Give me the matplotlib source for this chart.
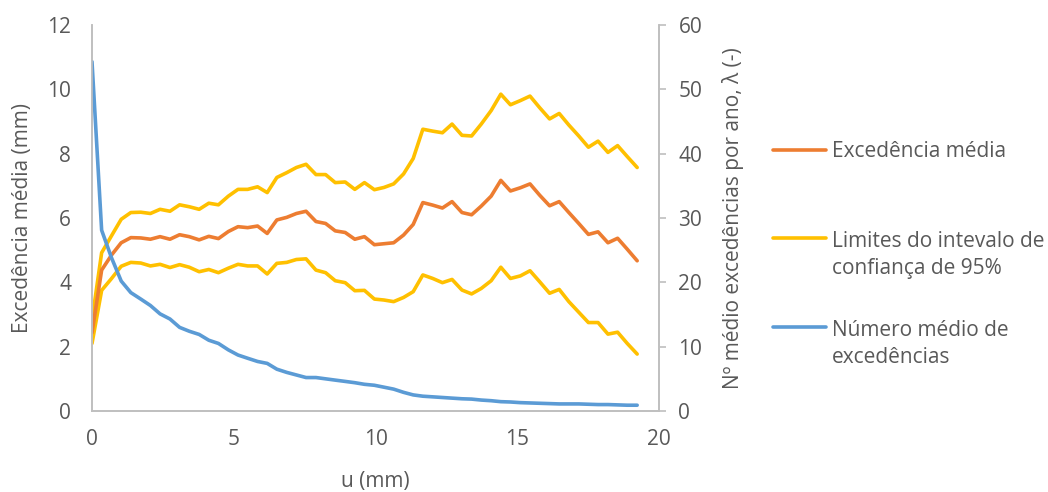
import matplotlib
matplotlib.use("Agg")
import matplotlib.pyplot as plt
from matplotlib.lines import Line2D

# ---------------- data ----------------
u_mm = [0.00, 0.34, 0.69, 1.03, 1.37, 1.72, 2.06, 2.40, 2.75, 3.09,
        3.43, 3.78, 4.12, 4.46, 4.81, 5.15, 5.49, 5.84, 6.18, 6.52,
        6.87, 7.21, 7.55, 7.90, 8.24, 8.58, 8.93, 9.27, 9.61, 9.96,
        10.30, 10.64, 10.99, 11.33, 11.67, 12.02, 12.36, 12.70, 13.05, 13.39,
        13.73, 14.08, 14.42, 14.76, 15.11, 15.45, 15.79, 16.14, 16.48, 16.82,
        17.17, 17.51, 17.85, 18.20, 18.54, 18.88, 19.23]

excedencia_media = [2.43, 4.38, 4.85, 5.23, 5.39, 5.38, 5.34, 5.42, 5.34, 5.48,
                    5.42, 5.32, 5.43, 5.36, 5.58, 5.73, 5.70, 5.75, 5.52, 5.94,
                    6.02, 6.14, 6.21, 5.89, 5.83, 5.60, 5.55, 5.34, 5.42, 5.17,
                    5.20, 5.23, 5.47, 5.80, 6.48, 6.40, 6.31, 6.51, 6.17, 6.10,
                    6.37, 6.68, 7.17, 6.84, 6.94, 7.06, 6.71, 6.38, 6.51, 6.17,
                    5.83, 5.49, 5.57, 5.23, 5.37, 5.03, 4.67]

limite_superior = [2.82, 4.92, 5.45, 5.96, 6.17, 6.18, 6.14, 6.27, 6.21, 6.41,
                   6.35, 6.27, 6.46, 6.41, 6.68, 6.89, 6.89, 6.97, 6.79, 7.26,
                   7.41, 7.57, 7.67, 7.35, 7.35, 7.10, 7.12, 6.89, 7.10, 6.88,
                   6.95, 7.06, 7.37, 7.85, 8.76, 8.70, 8.65, 8.92, 8.57, 8.55,
                   8.92, 9.34, 9.85, 9.52, 9.65, 9.79, 9.43, 9.08, 9.25, 8.89,
                   8.55, 8.20, 8.39, 8.04, 8.25, 7.91, 7.57]

limite_inferior = [2.10, 3.75, 4.12, 4.50, 4.62, 4.60, 4.51, 4.56, 4.46, 4.55,
                   4.47, 4.33, 4.40, 4.30, 4.44, 4.56, 4.51, 4.51, 4.26, 4.59,
                   4.62, 4.71, 4.73, 4.38, 4.30, 4.05, 3.99, 3.74, 3.75, 3.48,
                   3.45, 3.40, 3.53, 3.71, 4.23, 4.12, 3.99, 4.09, 3.76, 3.64,
                   3.81, 4.05, 4.47, 4.12, 4.20, 4.36, 4.02, 3.66, 3.78, 3.40,
                   3.07, 2.75, 2.75, 2.39, 2.45, 2.10, 1.77]

numero_medio = [54.3, 28.1, 23.8, 20.2, 18.4, 17.4, 16.4, 15.1, 14.3, 13.0,
                12.4, 11.9, 11.0, 10.5, 9.5, 8.7, 8.2, 7.7, 7.4, 6.5,
                6.0, 5.6, 5.2, 5.2, 5.0, 4.8, 4.6, 4.4, 4.15, 4.0,
                3.7, 3.4, 2.9, 2.5, 2.3, 2.2, 2.1, 2.0, 1.9, 1.85,
                1.7, 1.6, 1.45, 1.4, 1.3, 1.25, 1.2, 1.15, 1.1, 1.1,
                1.1, 1.05, 1.0, 1.0, 0.95, 0.9, 0.9]

left_ticks = [0, 2, 4, 6, 8, 10, 12]
right_ticks = [0, 10, 20, 30, 40, 50, 60]
x_ticks = [0, 5, 10, 15, 20]

labels = ["Excedência média",
          "Limites do intevalo de\nconfiança de 95%",
          "Número médio de\nexcedências"]

# ---------------- style ----------------
ORANGE = "#ED7D31"
YELLOW = "#FFC000"
BLUE = "#5B9BD5"
TXT = "#595959"
SPINE = "#BFBFBF"
FS = 15
plt.rcParams['font.family'] = ['Open Sans', 'DejaVu Sans']

W, H = 1048, 492
fig = plt.figure(figsize=(W / 100, H / 100), dpi=100)
L, R, T, B = 92, 659, 25, 411
ax = fig.add_axes([L / W, 1 - B / H, (R - L) / W, (B - T) / H])
ax2 = ax.twinx()

lw = 2.6
kw = dict(lw=lw, solid_joinstyle='round', solid_capstyle='round')
ax.plot(u_mm, limite_superior, color=YELLOW, **kw)
ax.plot(u_mm, limite_inferior, color=YELLOW, **kw)
ax.plot(u_mm, excedencia_media, color=ORANGE, **kw)
ax2.plot(u_mm, numero_medio, color=BLUE, **kw)

ax.set_xlim(0, 20)
ax.set_ylim(0, 12)
ax2.set_ylim(0, 60)
ax.set_xticks(x_ticks)
ax.set_yticks(left_ticks)
ax2.set_yticks(right_ticks)

for a in (ax, ax2):
    a.patch.set_visible(False)
    for s in a.spines.values():
        s.set_color(SPINE)
        s.set_linewidth(1.2)
    a.spines['top'].set_visible(False)

ax.tick_params(axis='x', length=0, pad=13, labelsize=FS, labelcolor=TXT)
ax.tick_params(axis='y', length=0, pad=15, labelsize=FS, labelcolor=TXT)
ax2.tick_params(axis='y', length=5, width=1.2, color=SPINE, pad=9,
                labelsize=FS, labelcolor=TXT)

ax.set_xlabel("u (mm)", fontsize=FS, color=TXT, va='center')
ax.xaxis.set_label_coords(0.5, (B - 481) / (B - T))
ax.set_ylabel("Excedência média (mm)", fontsize=FS, color=TXT,
              va='center', ha='center')
ax.yaxis.set_label_coords((23 - L) / (R - L), 0.5)
ax2.set_ylabel("Nº médio excedências por ano, λ (-)", fontsize=FS, color=TXT,
               va='center', ha='center', rotation=90)
ax2.yaxis.set_label_coords((733 - L) / (R - L), 0.5)

# ---------------- legend (manual) ----------------
colors = [ORANGE, YELLOW, BLUE]
line_y = [150, 238, 327]
line_gap = 29
for c, lab, yy in zip(colors, labels, line_y):
    fig.add_artist(Line2D([773 / W, 826 / W], [1 - yy / H, 1 - yy / H],
                          color=c, lw=lw, solid_capstyle='round',
                          transform=fig.transFigure))
    n = lab.count("\n")
    base = yy + 7 + n * line_gap
    fig.text(832 / W, 1 - base / H, lab, fontsize=FS, color=TXT,
             ha='left', va='baseline', linespacing=1.4)

fig.savefig("out.png", dpi=100)
